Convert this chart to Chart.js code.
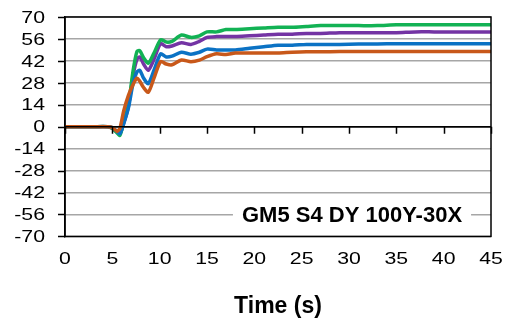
<!DOCTYPE html>
<html>
<head>
<meta charset="utf-8">
<script src="https://cdn.jsdelivr.net/npm/chart.js@4/dist/chart.umd.min.js"></script>
<style>
  html, body { margin: 0; padding: 0; background: #fff; }
  #wrap { width: 505px; height: 322px; position: relative; }
</style>
</head>
<body>
<div id="wrap"><canvas id="chart"></canvas></div>
<script>
// time (s)
const time = [0, 3, 4.5, 5.0, 5.5, 5.8, 6.2, 6.7, 7.2, 7.6, 7.9, 8.3, 8.8, 9.4, 10.1, 10.7, 11.3, 12.3, 13.3, 14.2,
  15, 16, 17, 18, 19.5, 21, 22.5, 24, 25.5, 27, 29, 31, 33, 35, 37, 39, 41, 43, 45];

const greenVals = [0, 0, 0, -1, -4, -5.5, 3, 14, 36, 48, 48.5, 44, 40.5, 47, 55.5, 54, 54.5, 58.5, 57, 58,
  60.5, 60.5, 62, 62, 62.5, 63, 63.5, 63.5, 64, 64.5, 64.5, 64.5, 64.5, 65, 65, 65, 65, 65, 65];
const purpleVals = [0, 0, 0, -1, -3.5, -4.5, 2, 13, 33, 43, 44.5, 40, 36, 43, 53, 51, 51.5, 53.5, 52.5, 54.5,
  57, 57.5, 57.5, 57.5, 58, 58.5, 59, 59, 59.5, 59.5, 60, 60, 60, 60, 60.5, 60.5, 60.5, 60.5, 60.5];
const blueVals = [0, 0, 0, -0.5, -3, -4.5, 2, 12, 28, 35, 36, 31, 27.5, 36, 46.5, 44.5, 45, 47.5, 46.3, 47.5,
  49.5, 49, 49, 49, 50, 51, 52, 52, 52.5, 52.5, 52.5, 52.8, 52.8, 53, 53, 53, 53, 53, 53];
const orangeVals = [0, 0, 0, -0.5, -3, -1, 10, 20, 27, 31, 29, 25, 22, 31, 41.5, 40, 39.5, 42.6, 41.5, 42.5,
  44.7, 46.5, 46, 47, 47, 47, 47, 47.5, 47.8, 47.8, 48, 48, 48, 48, 48, 48, 48, 48, 48];

const xTicks = [0, 5, 10, 15, 20, 25, 30, 35, 40, 45];
const yTicks = [-70, -56, -42, -28, -14, 0, 14, 28, 42, 56, 70];
const label = 'GM5 S4 DY 100Y-30X';

const FONT = '"Liberation Sans", Arial, sans-serif';
const TICK_FONT = '17px ' + FONT;
const TICK_STRETCH = 1.25; // tick labels in the original are drawn wide

function pts(vals) {
  return vals.map((v, i) => ({ x: time[i], y: v }));
}

function series(name, vals, color) {
  return {
    label: name,
    data: pts(vals),
    borderColor: color,
    backgroundColor: color,
    borderWidth: 3.5,
    pointRadius: 0,
    tension: 0.25,
    fill: false
  };
}

function wideText(ctx, text, x, y, align) {
  ctx.save();
  ctx.translate(x, y);
  ctx.scale(TICK_STRETCH, 1);
  ctx.textAlign = align;
  ctx.fillText(text, 0, 0);
  ctx.restore();
}

// box, tick marks, tick labels and the in-plot label
const decorations = {
  id: 'decorations',
  afterDatasetsDraw(chart) {
    const { ctx, chartArea: a, scales: { x, y } } = chart;
    ctx.save();
    ctx.strokeStyle = '#000';
    ctx.lineWidth = 1.5;
    ctx.strokeRect(a.left, a.top, a.right - a.left, a.bottom - a.top);

    const y0 = y.getPixelForValue(0);
    ctx.beginPath();
    ctx.moveTo(a.left, y0);
    ctx.lineTo(a.right, y0);
    xTicks.forEach(t => {
      const px = Math.round(x.getPixelForValue(t)) + 0.5;
      ctx.moveTo(px, y0);
      ctx.lineTo(px, y0 + 7);
    });
    yTicks.forEach(v => {
      const py = Math.round(y.getPixelForValue(v)) + 0.5;
      ctx.moveTo(a.left - 7, py);
      ctx.lineTo(a.left, py);
    });
    ctx.stroke();

    ctx.fillStyle = '#000';
    ctx.font = TICK_FONT;
    ctx.textBaseline = 'middle';
    yTicks.forEach(v => wideText(ctx, String(v), a.left - 20, y.getPixelForValue(v) + 1, 'right'));
    xTicks.forEach(v => wideText(ctx, String(v), x.getPixelForValue(v), a.bottom + 23, 'center'));

    ctx.font = 'bold 22px ' + FONT;
    ctx.textAlign = 'center';
    const cx = 352;
    const cy = y.getPixelForValue(-56);
    const w = ctx.measureText(label).width;
    ctx.fillStyle = '#fff';
    ctx.fillRect(cx - w / 2 - 9, cy - 12, w + 18, 24);
    ctx.fillStyle = '#000';
    ctx.fillText(label, cx, cy + 1);
    ctx.restore();
  }
};

const ctx = document.getElementById('chart').getContext('2d');
new Chart(ctx, {
  type: 'line',
  data: {
    datasets: [
      series('S1', orangeVals, '#c8581a'),
      series('S2', blueVals, '#0b72c4'),
      series('S4', greenVals, '#12b254'),
      series('S3', purpleVals, '#7434a4')
    ]
  },
  options: {
    responsive: true,
    maintainAspectRatio: false,
    animation: false,
    layout: { padding: { top: 17, right: 14, left: 0, bottom: 0 } },
    plugins: {
      legend: { display: false },
      tooltip: { enabled: false }
    },
    scales: {
      x: {
        type: 'linear',
        min: 0,
        max: 45,
        afterBuildTicks: s => { s.ticks = xTicks.map(v => ({ value: v })); },
        grid: { display: false, drawTicks: false },
        border: { display: false },
        ticks: { display: false },
        title: {
          display: true,
          text: 'Time (s)',
          color: '#000',
          font: { family: FONT, size: 23, weight: 'bold' },
          padding: { top: 56, bottom: 2 }
        }
      },
      y: {
        min: -70,
        max: 70,
        afterBuildTicks: s => { s.ticks = yTicks.map(v => ({ value: v })); },
        afterFit: s => { s.width = 65; },
        grid: {
          color: c => c.tick && c.tick.value === 0 ? '#000' : '#a6a6a6',
          lineWidth: 1.5,
          drawTicks: false
        },
        border: { display: true, color: '#000', width: 1.5 },
        ticks: { display: false }
      }
    }
  },
  plugins: [decorations]
});
</script>
</body>
</html>
